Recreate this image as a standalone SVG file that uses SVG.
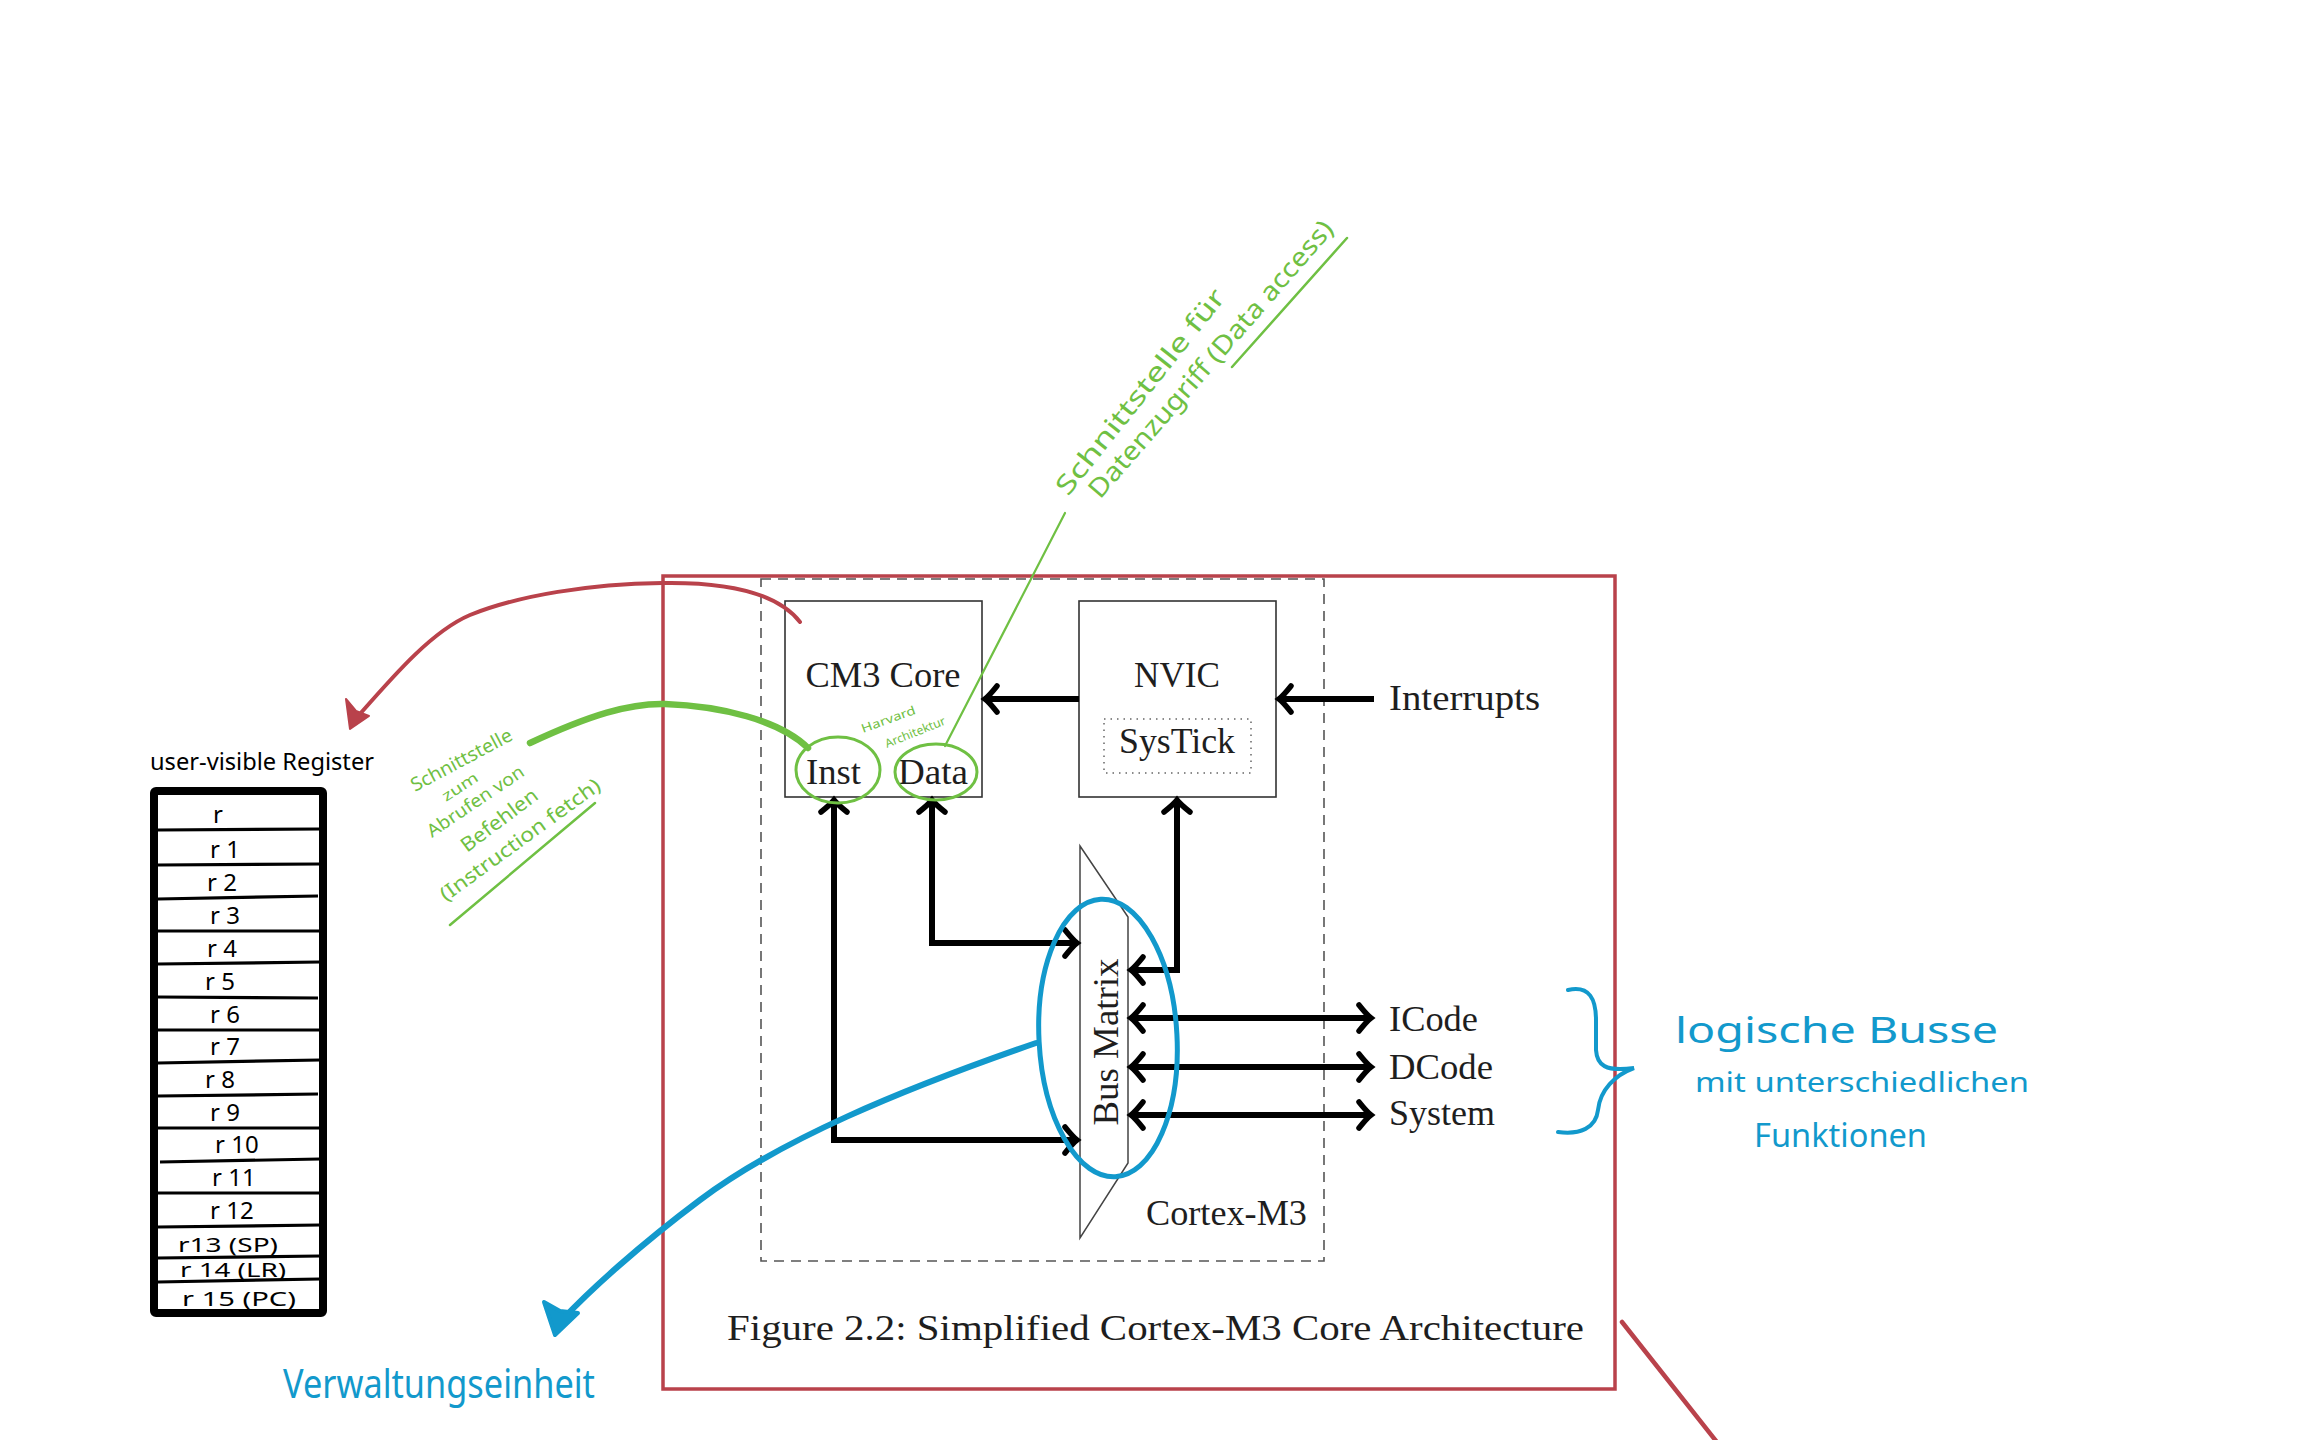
<svg xmlns="http://www.w3.org/2000/svg" width="2304" height="1440" viewBox="0 0 2304 1440">
<style>
.tex{font-family:"Liberation Serif","DejaVu Serif",serif;font-size:35px;fill:#1e1e1e}
.box{fill:none;stroke:#333;stroke-width:1.6}
.bus{fill:none;stroke:#000;stroke-width:6;stroke-linejoin:miter}
.hw{font-family:"Noto Sans","DejaVu Sans",sans-serif}
.g{fill:#6fc043}
.gs{fill:none;stroke:#6fc043;stroke-linecap:round}
.b{fill:#1299cc}
.bs{fill:none;stroke:#1299cc;stroke-linecap:round}
.rs{fill:none;stroke:#b9424b;stroke-linecap:round}
.rowl{stroke:#000;stroke-width:3.2}
.rl{font-family:"Noto Sans","DejaVu Sans",sans-serif;font-size:24px;fill:#000}
.rls{font-family:"Noto Sans","DejaVu Sans",sans-serif;font-size:19px;fill:#000}
</style>
<defs>
<marker id="ah" markerUnits="userSpaceOnUse" viewBox="-20 -20 40 40" markerWidth="40" markerHeight="40" refX="0" refY="0" orient="auto-start-reverse">
<path d="M -12 -13 Q -4 -3 0 0 Q -4 3 -12 13" fill="none" stroke="#000" stroke-width="5.5" stroke-linecap="round"/>
</marker>
</defs>
<rect width="2304" height="1440" fill="#fff"/>

<!-- red frame -->
<g id="frame">
<rect x="663" y="576" width="952" height="813" fill="none" stroke="#b9424b" stroke-width="3.5"/>
<line x1="1622" y1="1322" x2="1720" y2="1446" class="rs" stroke-width="4.5"/>
</g>

<!-- dashed Cortex-M3 boundary -->
<g id="cortex">
<rect x="761" y="579" width="563" height="682" fill="none" stroke="#555" stroke-width="1.6" stroke-dasharray="10 7"/>
<text class="tex" x="1146" y="1225" textLength="161" lengthAdjust="spacingAndGlyphs">Cortex-M3</text>
</g>

<g id="cm3core">
<rect class="box" x="785" y="601" width="197" height="196"/>
<text class="tex" x="883" y="687" text-anchor="middle" textLength="155" lengthAdjust="spacingAndGlyphs">CM3 Core</text>
<text class="tex" x="806" y="784" textLength="55" lengthAdjust="spacingAndGlyphs">Inst</text>
<text class="tex" x="898" y="784" textLength="70" lengthAdjust="spacingAndGlyphs">Data</text>
</g>

<g id="nvic">
<rect class="box" x="1079" y="601" width="197" height="196"/>
<text class="tex" x="1177" y="687" text-anchor="middle" textLength="86" lengthAdjust="spacingAndGlyphs">NVIC</text>
<rect x="1104" y="719" width="147" height="54" fill="none" stroke="#666" stroke-width="1.5" stroke-dasharray="1.5 5"/>
<text class="tex" x="1177" y="753" text-anchor="middle" textLength="116" lengthAdjust="spacingAndGlyphs">SysTick</text>
</g>

<g id="busmatrix">
<path d="M 1080 846 L 1128 917 L 1128 1163 L 1080 1238 Z" fill="none" stroke="#444" stroke-width="1.5"/>
<text class="tex" transform="translate(1118,1042) rotate(-90)" text-anchor="middle" textLength="167" lengthAdjust="spacingAndGlyphs">Bus Matrix</text>
</g>

<g id="labels">
<text class="tex" x="1389" y="710" textLength="151" lengthAdjust="spacingAndGlyphs">Interrupts</text>
<text class="tex" x="1389" y="1031" textLength="89" lengthAdjust="spacingAndGlyphs">ICode</text>
<text class="tex" x="1389" y="1079" textLength="104" lengthAdjust="spacingAndGlyphs">DCode</text>
<text class="tex" x="1389" y="1125" textLength="106" lengthAdjust="spacingAndGlyphs">System</text>
<text class="tex" x="727" y="1340" textLength="857" lengthAdjust="spacingAndGlyphs">Figure 2.2: Simplified Cortex-M3 Core Architecture</text>
</g>

<g id="connectors">
<path class="bus" d="M 1079 699 L 985 699" marker-end="url(#ah)"/>
<path class="bus" d="M 1374 699 L 1279 699" marker-end="url(#ah)"/>
<path class="bus" d="M 1077 1140 L 834 1140 L 834 800" marker-start="url(#ah)" marker-end="url(#ah)"/>
<path class="bus" d="M 1077 943 L 932 943 L 932 800" marker-start="url(#ah)" marker-end="url(#ah)"/>
<path class="bus" d="M 1131 970 L 1177 970 L 1177 800" marker-start="url(#ah)" marker-end="url(#ah)"/>
<path class="bus" d="M 1131 1018 L 1371 1018" marker-start="url(#ah)" marker-end="url(#ah)"/>
<path class="bus" d="M 1131 1067 L 1371 1067" marker-start="url(#ah)" marker-end="url(#ah)"/>
<path class="bus" d="M 1131 1115 L 1371 1115" marker-start="url(#ah)" marker-end="url(#ah)"/>
</g>

<!-- register file -->
<g id="registers">
<text class="hw" x="150" y="770" font-size="23" fill="#000" textLength="224" lengthAdjust="spacingAndGlyphs">user-visible Register</text>
<rect x="154" y="791" width="169" height="522" fill="none" stroke="#000" stroke-width="8" rx="2"/>
<line class="rowl" x1="158" y1="830" x2="320" y2="829"/>
<line class="rowl" x1="158" y1="865" x2="320" y2="864"/>
<line class="rowl" x1="158" y1="899" x2="318" y2="896"/>
<line class="rowl" x1="158" y1="931" x2="320" y2="931"/>
<line class="rowl" x1="158" y1="964" x2="320" y2="962"/>
<line class="rowl" x1="158" y1="997" x2="318" y2="998"/>
<line class="rowl" x1="158" y1="1030" x2="320" y2="1030"/>
<line class="rowl" x1="158" y1="1063" x2="320" y2="1060"/>
<line class="rowl" x1="158" y1="1096" x2="318" y2="1094"/>
<line class="rowl" x1="158" y1="1128" x2="320" y2="1128"/>
<line class="rowl" x1="160" y1="1162" x2="320" y2="1159"/>
<line class="rowl" x1="158" y1="1193" x2="320" y2="1193"/>
<line class="rowl" x1="158" y1="1227" x2="320" y2="1225"/>
<line class="rowl" x1="158" y1="1258" x2="320" y2="1256"/>
<line class="rowl" x1="158" y1="1282" x2="320" y2="1279"/>
<text class="rl" x="213" y="823">r</text>
<text class="rl" x="210" y="858">r 1</text>
<text class="rl" x="207" y="891">r 2</text>
<text class="rl" x="210" y="924">r 3</text>
<text class="rl" x="207" y="957">r 4</text>
<text class="rl" x="205" y="990">r 5</text>
<text class="rl" x="210" y="1023">r 6</text>
<text class="rl" x="210" y="1055">r 7</text>
<text class="rl" x="205" y="1088">r 8</text>
<text class="rl" x="210" y="1121">r 9</text>
<text class="rl" x="215" y="1153">r 10</text>
<text class="rl" x="212" y="1186">r 11</text>
<text class="rl" x="210" y="1219">r 12</text>
<text class="rls" x="178" y="1252" textLength="100" lengthAdjust="spacingAndGlyphs">r13 (SP)</text>
<text class="rls" x="180" y="1277" textLength="106" lengthAdjust="spacingAndGlyphs">r 14 (LR)</text>
<text class="rls" x="182" y="1306" textLength="114" lengthAdjust="spacingAndGlyphs">r 15 (PC)</text>
</g>

<!-- red annotation arrow -->
<g id="red-arrow">
<path class="rs" stroke-width="4" d="M 800 622 C 775 590, 720 582, 662 583 C 590 584, 520 595, 470 615 C 430 632, 390 680, 352 723"/>
<polygon points="350,729 346,699 356,711 369,716" fill="#b9424b" stroke="#b9424b" stroke-width="2" stroke-linejoin="round"/>
</g>

<!-- green annotations -->
<g id="green-inst">
<path class="gs" stroke-width="6.5" d="M 530 743 C 590 715, 630 703, 665 704 C 720 706, 780 720, 808 748"/>
<ellipse class="gs" cx="838" cy="770" rx="42" ry="33" stroke-width="3"/>
<text class="hw g" font-size="19" transform="translate(415,792) rotate(-28)" textLength="112" lengthAdjust="spacingAndGlyphs">Schnittstelle</text>
<text class="hw g" font-size="15" transform="translate(446,802) rotate(-33)" textLength="40" lengthAdjust="spacingAndGlyphs">zum</text>
<text class="hw g" font-size="18" transform="translate(432,838) rotate(-34)" textLength="113" lengthAdjust="spacingAndGlyphs">Abrufen von</text>
<text class="hw g" font-size="20" transform="translate(467,853) rotate(-37)" textLength="91" lengthAdjust="spacingAndGlyphs">Befehlen</text>
<text class="hw g" font-size="20" transform="translate(446,902) rotate(-36)" textLength="193" lengthAdjust="spacingAndGlyphs">(Instruction fetch)</text>
<line class="gs" x1="450" y1="925" x2="595" y2="803" stroke-width="2.5"/>
</g>

<g id="green-data">
<ellipse class="gs" cx="936" cy="772" rx="41" ry="28" stroke-width="3"/>
<line class="gs" x1="945" y1="746" x2="1065" y2="513" stroke-width="2.2"/>
<text class="hw g" font-size="12" transform="translate(863,733) rotate(-20)" textLength="57" lengthAdjust="spacingAndGlyphs">Harvard</text>
<text class="hw g" font-size="12" transform="translate(887,748) rotate(-22)" textLength="64" lengthAdjust="spacingAndGlyphs">Architektur</text>
<text class="hw g" font-size="26" transform="translate(1068,497) rotate(-51.5)" textLength="255" lengthAdjust="spacingAndGlyphs">Schnittstelle für</text>
<text class="hw g" font-size="26" transform="translate(1100,500) rotate(-49)" textLength="358" lengthAdjust="spacingAndGlyphs">Datenzugriff (Data access)</text>
<line class="gs" x1="1232" y1="367" x2="1347" y2="238" stroke-width="2.5"/>
</g>

<!-- blue annotations -->
<g id="blue-busmatrix">
<ellipse class="bs" cx="1108" cy="1038" rx="69" ry="139" stroke-width="5" transform="rotate(-3 1108 1038)"/>
<path class="bs" stroke-width="6" d="M 1036 1043 C 900 1090, 780 1140, 700 1200 C 640 1245, 590 1290, 562 1320"/>
<polygon points="555,1335 544,1302 560,1311 578,1313" fill="#1299cc" stroke="#1299cc" stroke-width="4" stroke-linejoin="round"/>
<text class="hw b" font-size="40" x="283" y="1398" textLength="312" lengthAdjust="spacingAndGlyphs">Verwaltungseinheit</text>
</g>

<g id="blue-buses">
<path class="bs" stroke-width="4" d="M 1568 990 C 1590 985, 1596 1000, 1596 1020 L 1596 1050 C 1597 1065, 1605 1072, 1634 1068 C 1615 1075, 1600 1090, 1598 1110 C 1596 1128, 1580 1135, 1558 1132"/>
<text class="hw b" font-size="36" x="1675" y="1043" textLength="323" lengthAdjust="spacingAndGlyphs">logische Busse</text>
<text class="hw b" font-size="28" x="1695" y="1092" textLength="334" lengthAdjust="spacingAndGlyphs">mit unterschiedlichen</text>
<text class="hw b" font-size="32" x="1754" y="1147" textLength="173" lengthAdjust="spacingAndGlyphs">Funktionen</text>
</g>
</svg>
